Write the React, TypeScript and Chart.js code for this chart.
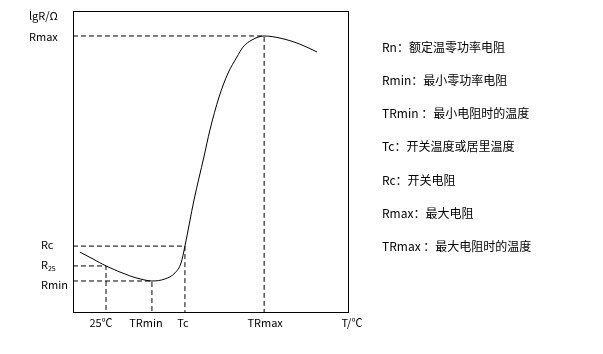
import React, { useEffect, useRef } from "react";
import { Chart, registerables } from "chart.js";

Chart.register(...registerables);

// Curve: temperature (arbitrary units) vs lgR (arbitrary units)
const curveT = [2.5, 7.3, 12.0, 20.7, 24.4, 28.7, 33.5, 37.1, 39.3, 40.7, 44.0, 47.6, 49.8, 53.1, 56.4, 59.6, 61.8, 65.1, 69.5, 75.3, 82.5, 88.7];
const curveR = [19.9, 17.6, 15.3, 12.0, 11.0, 10.3, 11.0, 13.0, 16.3, 21.9, 37.2, 51.5, 60.5, 71.4, 79.4, 84.7, 88.0, 90.4, 91.7, 91.0, 89.0, 86.4];

// Characteristic points
const guideT = [12.0, 28.7, 40.7, 69.5];
const guideR = [15.3, 10.3, 21.9, 91.7];
const xTickLabels = ["25℃", "TRmin", "Tc", "TRmax"];
const yTickLabels = ["R25", "Rmin", "Rc", "Rmax"];

const yAxisTitle = "lgR/Ω";
const xAxisTitle = "T/℃";

const legendLines = [
  "Rn：额定温零功率电阻",
  "Rmin：最小零功率电阻",
  "TRmin ：最小电阻时的温度",
  "Tc：开关温度或居里温度",
  "Rc：开关电阻",
  "Rmax：最大电阻",
  "TRmax ：最大电阻时的温度",
];

const FONT = '"Noto Sans CJK SC", "Noto Sans", sans-serif';

const annotPlugin = {
  id: "annot",
  afterDraw(chart: any) {
    const { ctx, chartArea } = chart;
    const xs = chart.scales.x;
    const ys = chart.scales.y;
    ctx.save();
    // frame
    ctx.strokeStyle = "#000";
    ctx.lineWidth = 1;
    ctx.strokeRect(
      Math.round(chartArea.left) + 0.5,
      Math.round(chartArea.top) + 0.5,
      Math.round(chartArea.right - chartArea.left),
      Math.round(chartArea.bottom - chartArea.top)
    );
    ctx.fillStyle = "#000";
    ctx.textBaseline = "middle";
    ctx.font = `11px ${FONT}`;
    // y axis title
    ctx.textAlign = "left";
    ctx.fillText(yAxisTitle, 29, 16);
    // y labels
    const yLeft = [41, 41, 41, 29];
    const yOff = [-1, 4, -1, 1];
    yTickLabels.forEach((lab, i) => {
      const py = ys.getPixelForValue(guideR[i]) + yOff[i];
      if (lab === "R25") {
        ctx.font = `11px ${FONT}`;
        ctx.fillText("R", yLeft[i], py);
        const w = ctx.measureText("R").width;
        ctx.font = `7px ${FONT}`;
        ctx.fillText("25", yLeft[i] + w, py + 3);
        ctx.font = `11px ${FONT}`;
      } else {
        ctx.fillText(lab, yLeft[i], py);
      }
    });
    // x labels
    ctx.textAlign = "center";
    const xOff = [-5, -6, -2, 1];
    xTickLabels.forEach((lab, i) => {
      const px = xs.getPixelForValue(guideT[i]) + xOff[i];
      ctx.fillText(lab, px, chartArea.bottom + 11);
    });
    ctx.fillText(xAxisTitle, chartArea.right + 4, chartArea.bottom + 11);
    // legend text
    ctx.textAlign = "left";
    ctx.font = `12px ${FONT}`;
    legendLines.forEach((t, i) => {
      ctx.fillText(t, 382, 47 + i * 33.3);
    });
    ctx.restore();
  },
};

export default function App() {
  const ref = useRef<HTMLCanvasElement>(null);
  useEffect(() => {
    if (!ref.current) return;
    const curve = curveT.map((t, i) => ({ x: t, y: curveR[i] }));
    const guides = guideT.map((t, i) => ({
      data: [
        { x: 0, y: guideR[i] },
        { x: t, y: guideR[i] },
        { x: t, y: 0 },
      ],
      showLine: true,
      borderColor: "#000",
      borderWidth: 1,
      borderDash: [5, 3],
      pointRadius: 0,
      tension: 0,
      fill: false,
    }));
    const chart = new Chart(ref.current, {
      type: "scatter",
      data: {
        datasets: [
          ...guides,
          {
            data: curve,
            showLine: true,
            borderColor: "#000",
            borderWidth: 1,
            pointRadius: 0,
            cubicInterpolationMode: "monotone",
            fill: false,
          } as any,
        ],
      },
      options: {
        animation: false,
        responsive: true,
        maintainAspectRatio: false,
        layout: { padding: { left: 73, top: 11, right: 255, bottom: 42 } },
        plugins: { legend: { display: false }, tooltip: { enabled: false } },
        scales: {
          x: { type: "linear", min: 0, max: 100, display: false },
          y: { type: "linear", min: 0, max: 100, display: false },
        },
      },
      plugins: [annotPlugin],
    });
    return () => chart.destroy();
  }, []);
  return (
    <div style={{ position: "absolute", left: 0, top: 0, width: 603, height: 354, background: "#fff" }}>
      <canvas ref={ref} />
    </div>
  );
}
